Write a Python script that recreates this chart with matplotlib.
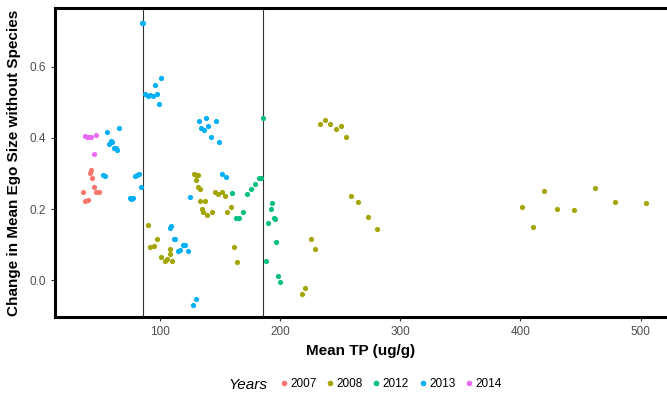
import matplotlib.pyplot as plt
from matplotlib.lines import Line2D

plt.rcParams['font.family'] = ['Liberation Sans', 'DejaVu Sans']

years = ['2007', '2008', '2012', '2013', '2014']
colors = ['#F8766D', '#A3A500', '#00BF7D', '#00B0F6', '#E76BF3']

tp_2007 = [42.7, 41.9, 43.8, 45.7, 36.6, 47.4, 49.4, 38.2, 40.5]
ego_2007 = [0.311, 0.301, 0.288, 0.263, 0.249, 0.247, 0.249, 0.224, 0.225]

tp_2008 = [128.5, 130.1, 131.8, 130.1, 132.1, 133.5, 134.0, 137.9, 135.1, 136.0,
           139.8, 143.5, 146.0, 148.5, 152.0, 154.3, 156.2, 159.0, 162.0, 164.3,
           90.2, 98.2, 92.1, 95.4, 109.0, 108.5, 101.5, 104.3, 106.2, 110.4,
           233.4, 237.2, 241.4, 246.7, 250.9, 254.7, 258.9, 265.0, 273.0, 281.1,
           225.6, 229.2, 218.7, 221.1,
           401.8, 410.7, 419.3, 430.1, 444.9, 461.8, 478.4, 504.8]
ego_2008 = [0.298, 0.296, 0.295, 0.283, 0.263, 0.257, 0.222, 0.222, 0.199, 0.193,
            0.183, 0.191, 0.247, 0.241, 0.247, 0.236, 0.192, 0.206, 0.092, 0.052,
            0.156, 0.116, 0.094, 0.096, 0.087, 0.073, 0.065, 0.055, 0.059, 0.053,
            0.438, 0.452, 0.440, 0.426, 0.434, 0.404, 0.236, 0.220, 0.177, 0.145,
            0.117, 0.087, -0.038, -0.022,
            0.206, 0.149, 0.252, 0.201, 0.196, 0.258, 0.220, 0.217]

tp_2012 = [186.2, 160.1, 163.4, 166.2, 169.5, 172.9, 176.2, 179.5, 182.3, 184.5,
           193.7, 192.3, 195.1, 196.2, 190.1, 197.0, 188.4, 198.4, 199.8]
ego_2012 = [0.456, 0.245, 0.174, 0.176, 0.192, 0.242, 0.255, 0.270, 0.288, 0.286,
            0.218, 0.201, 0.175, 0.172, 0.161, 0.108, 0.054, 0.012, -0.006]

tp_2013 = [85.5, 86.5, 88.0, 90.0, 92.0, 94.3, 97.7, 96.3, 101.5, 99.6,
           132.6, 138.7, 146.5, 134.5, 136.8, 140.6, 143.1, 149.3,
           56.5, 66.0, 59.4, 60.7, 58.2, 62.1, 63.5, 64.9,
           53.2, 54.6, 79.6, 81.3, 82.9, 84.3, 75.4, 76.5, 77.9,
           125.6, 152.3, 155.4,
           108.7, 109.8, 112.0, 113.2, 115.2, 117.1, 119.3, 121.2, 124.0, 130.1, 127.9]
ego_2013 = [0.725, 0.725, 0.524, 0.518, 0.522, 0.518, 0.523, 0.548, 0.568, 0.495,
            0.448, 0.457, 0.448, 0.427, 0.423, 0.434, 0.402, 0.389,
            0.418, 0.427, 0.392, 0.390, 0.383, 0.372, 0.371, 0.367,
            0.295, 0.292, 0.292, 0.296, 0.300, 0.263, 0.230, 0.227, 0.232,
            0.234, 0.298, 0.291,
            0.147, 0.151, 0.115, 0.117, 0.083, 0.085, 0.098, 0.100, 0.081, -0.052, -0.070]

tp_2014 = [37.7, 40.0, 41.4, 42.8, 47.1, 45.2]
ego_2014 = [0.405, 0.403, 0.403, 0.403, 0.408, 0.354]

series = [(tp_2007, ego_2007), (tp_2008, ego_2008), (tp_2012, ego_2012),
          (tp_2013, ego_2013), (tp_2014, ego_2014)]

cutoffs = [86.3, 186.2]

fig = plt.figure(figsize=(6.67, 3.97), dpi=100)
ax = fig.add_axes([55 / 667, 1 - 317 / 397, 1 - 55 / 667, 309 / 397])

for (x, y), c in zip(series, colors):
    ax.scatter(x, y, s=14, color=c, linewidths=0, zorder=3)

for v in cutoffs:
    ax.axvline(v, color='#333333', lw=0.8, zorder=2)

ax.set_xlim(13, 522)
ax.set_ylim(-0.104, 0.766)
ax.set_xticks([100, 200, 300, 400, 500])
ax.set_yticks([0.0, 0.2, 0.4, 0.6])
ax.set_yticklabels(['0.0', '0.2', '0.4', '0.6'])
ax.tick_params(labelsize=8.5, labelcolor='#4D4D4D', color='#333333',
               length=3, width=0.8)

for side in ['left', 'bottom', 'top']:
    ax.spines[side].set_linewidth(2.2)
ax.spines['right'].set_visible(False)

ax.set_xlabel('Mean TP (ug/g)', fontsize=11, fontweight='bold', labelpad=4)
ax.set_ylabel('Change in Mean Ego Size without Species', fontsize=11,
              fontweight='bold', labelpad=6)

# legend along the bottom, title on the left
handles = [Line2D([], [], marker='o', ls='', color=c, markersize=3)
           for c in colors]
fig.legend(handles, years, ncol=5, loc='center', bbox_to_anchor=(390 / 667, 1 - 384 / 397),
           frameon=False, fontsize=8.5, handletextpad=0.1, columnspacing=0.7,
           handlelength=0.9, borderaxespad=0, borderpad=0)
fig.text(228 / 667, 1 - 385 / 397, 'Years', fontsize=11, fontstyle='italic',
         va='center', ha='left')

fig.savefig('out.png', dpi=100)
